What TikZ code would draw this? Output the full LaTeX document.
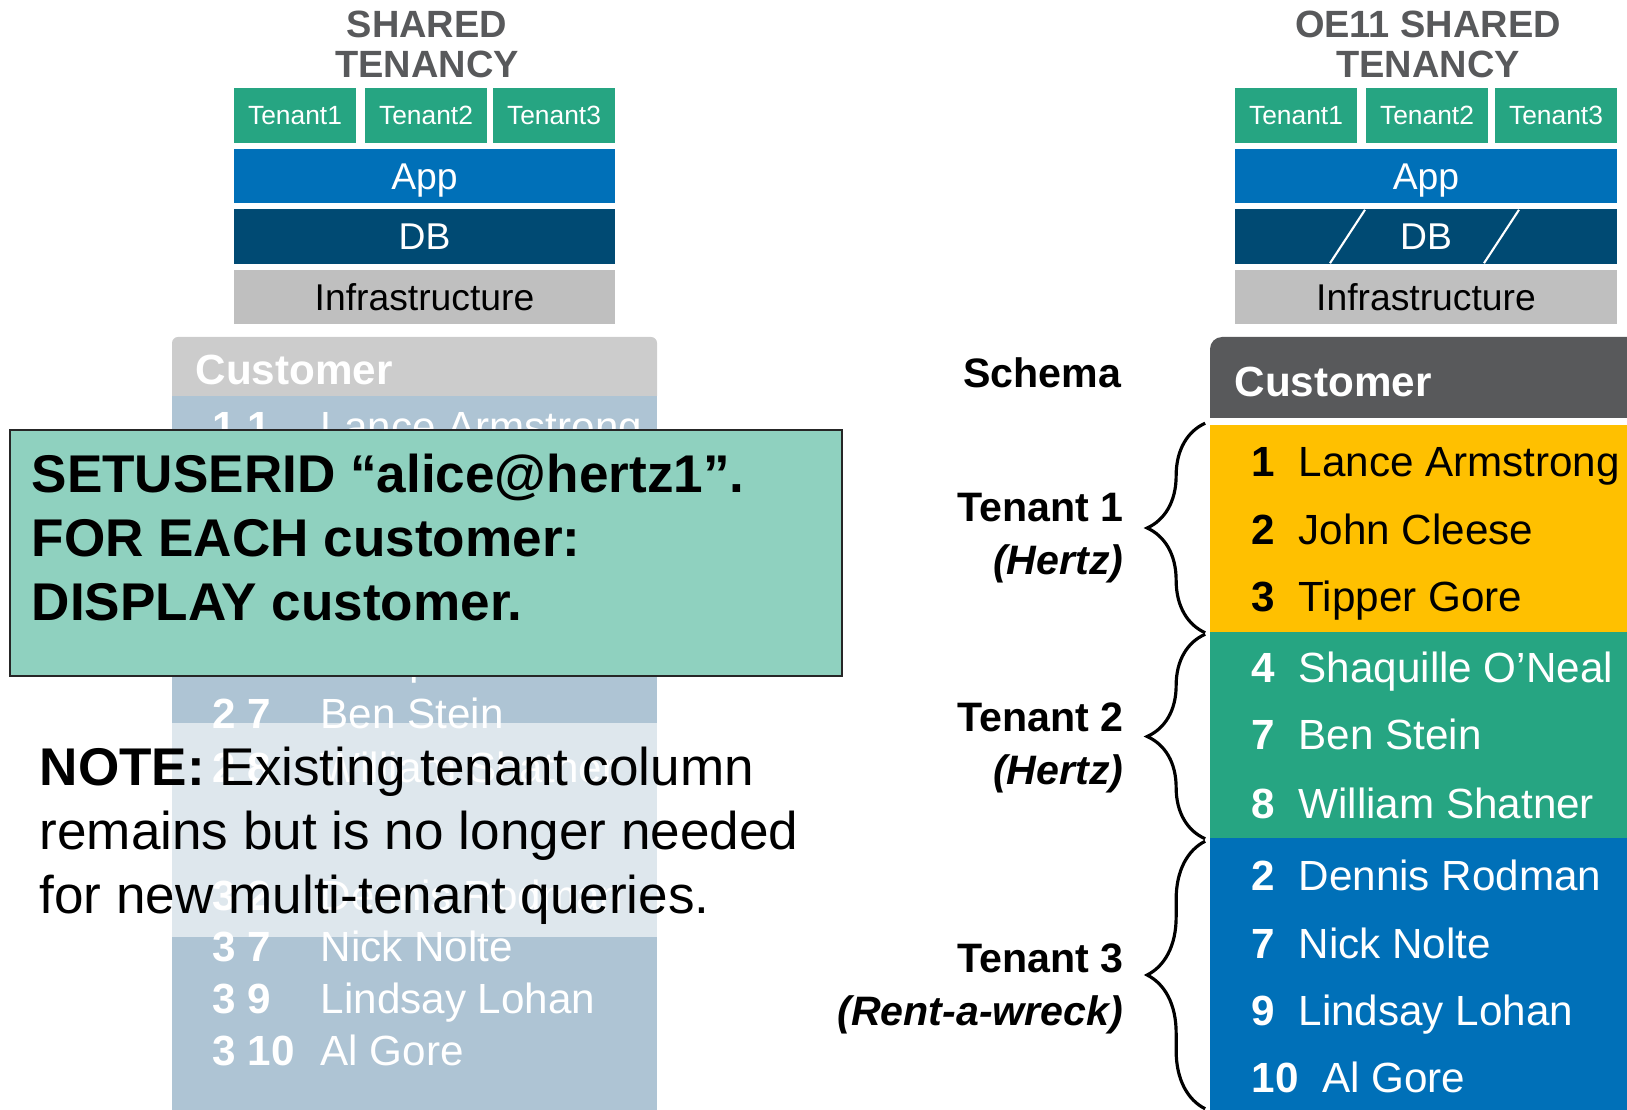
\documentclass[tikz,border=0pt]{standalone}
\usepackage{fontspec}
\setmainfont{Liberation Sans}
\usepackage{tikz}
\usetikzlibrary{decorations.pathreplacing, calc}

\definecolor{tgreen}{RGB}{38,165,130}
\definecolor{appblue}{RGB}{0,112,184}
\definecolor{dbnavy}{RGB}{0,74,115}
\definecolor{infragrey}{RGB}{191,191,191}
\definecolor{titlegrey}{RGB}{88,89,91}
\definecolor{hdrlight}{RGB}{204,204,204}
\definecolor{tblblue}{RGB}{174,196,212}
\definecolor{mint}{RGB}{143,209,191}
\definecolor{hyellow}{RGB}{255,192,0}

\begin{document}
\begin{tikzpicture}[x=0.01cm, y=-0.01cm]
    \tikzstyle{tenantbox} = [rectangle, fill=tgreen, text=white, minimum width=1.22cm, minimum height=0.55cm, inner sep=0pt, text height=0.19cm, text depth=0pt, font=\fontsize{7.5}{9}\selectfont]
    \tikzstyle{layer} = [rectangle, text=white, minimum width=3.81cm, minimum height=0.54cm, inner sep=0pt, text height=0.27cm, text depth=0pt, font=\fontsize{10.6}{12}\selectfont]
    \tikzstyle{stacktitle} = [align=center, inner sep=0pt, text=titlegrey, font=\fontsize{10.8}{11.4}\selectfont\bfseries]
    \tikzstyle{band} = [rectangle, minimum width=4.3cm, inner sep=0pt]
    \tikzstyle{rowtext} = [anchor=base west, inner sep=0pt, font=\fontsize{12}{14}\selectfont]
    \tikzstyle{tenantlabel} = [anchor=east, align=right, inner sep=0pt, font=\fontsize{11.7}{15}\selectfont\bfseries]
    \tikzstyle{tbrace} = [decorate, decoration={brace, amplitude=0.58cm}, line width=0.9pt]
    \tikzstyle{bigtext} = [anchor=west, align=left, inner sep=0pt, font=\fontsize{15.1}{18.2}\selectfont]

    \useasboundingbox (0,0) rectangle (1627,1110);

    % Left stack
    \node[stacktitle] (ltitle) at (427,44) {SHARED\\TENANCY};
    \node[tenantbox] (lten1) at (295,115.5) {Tenant1};
    \node[tenantbox] (lten2) at (426,115.5) {Tenant2};
    \node[tenantbox] (lten3) at (554,115.5) {Tenant3};
    \node[layer, fill=appblue] (lapp) at (424.5,176) {App};
    \node[layer, fill=dbnavy] (ldb) at (424.5,236.5) {DB};
    \node[layer, fill=infragrey, text=black] (linfra) at (424.5,297) {Infrastructure};

    % Right stack
    \node[stacktitle] (rtitle) at (1428,44) {OE11 SHARED\\TENANCY};
    \node[tenantbox] (rten1) at (1296,115.5) {Tenant1};
    \node[tenantbox] (rten2) at (1427,115.5) {Tenant2};
    \node[tenantbox] (rten3) at (1556,115.5) {Tenant3};
    \node[layer, fill=appblue] (rapp) at (1426,176) {App};
    \node[layer, fill=dbnavy] (rdb) at (1426,236.5) {DB};
    \node[layer, fill=infragrey, text=black] (rinfra) at (1426,297) {Infrastructure};
    \draw[white, line width=0.6pt] ([shift={(-96,-1)}]rdb.south) -- ([shift={(-61,1)}]rdb.north);
    \draw[white, line width=0.6pt] ([shift={(58,-1)}]rdb.south) -- ([shift={(93,1)}]rdb.north);

    % Left table (old tenant column)
    \path[fill=hdrlight, rounded corners=0.06cm] (172,396) -- (172,337) -- (657,337) -- (657,396);
    \node[rectangle, fill=tblblue, minimum width=4.85cm, minimum height=7.3cm, inner sep=0pt] (lbody) at (414.5,761) {};
    \node[rowtext, text=white, font=\fontsize{12}{14}\selectfont\bfseries] (lcust) at (195,385) {Customer};
    \foreach \n/\nm/\y [count=\i] in {1 1/Lance Armstrong/442, 2 4/Shaquille O’Neal/675, 2 7/Ben Stein/729, 2 8/William Shatner/783, 3 2/Dennis Rodman/910, 3 7/Nick Nolte/961, 3 9/Lindsay Lohan/1013, 3 10/Al Gore/1065} {
        \node[rowtext, text=white] (lnum\i) at (212,\y) {\textbf{\n}};
        \node[rowtext, text=white] (lname\i) at (320,\y) {\nm};
    }
    \fill[white, fill opacity=0.6] (172,723) rectangle (657,937);

    % Command box
    \node[draw=black!85, line width=0.6pt, fill=mint, minimum width=8.32cm, minimum height=2.46cm, inner sep=0pt] (cmdbox) at (426,553) {};
    \node[bigtext, font=\fontsize{15.1}{18.2}\selectfont\bfseries] (cmdtext) at (31,538) {SETUSERID “alice@hertz1”.\\FOR EACH customer:\\DISPLAY customer.};

    % Note
    \node[bigtext] (note) at (39,836) {\textbf{NOTE:} Existing tenant column\\remains but is no longer needed\\for new multi-tenant queries.};

    % Right table (schema per tenant)
    \path[fill=titlegrey, rounded corners=0.12cm] (1210,418) -- (1210,337) -- (1640,337) -- (1640,418);
    \node[rowtext, text=white, font=\fontsize{12}{14}\selectfont\bfseries] (rcust) at (1234,397) {Customer};
    \node[band, fill=hyellow, minimum height=2.07cm] (yel) at (1425,528.5) {};
    \node[band, fill=tgreen, minimum height=2.06cm] (grn) at (1425,735) {};
    \node[band, fill=appblue, minimum height=2.82cm] (blu) at (1425,979) {};
    \foreach \n/\nm/\y/\c [count=\i] in {1/Lance Armstrong/477/black, 2/John Cleese/545/black, 3/Tipper Gore/612/black, 4/Shaquille O’Neal/683/white, 7/Ben Stein/750/white, 8/William Shatner/818/white, 2/Dennis Rodman/890/white, 7/Nick Nolte/958/white, 9/Lindsay Lohan/1025/white, 10/Al Gore/1092/white} {
        \node[rowtext, text=\c] (rrow\i) at (1251,\y) {\textbf{\n}~~\nm};
    }

    % Tenant labels and braces
    \node[tenantlabel] (schema) at (1122,373) {Schema};
    \node[tenantlabel] (lab1) at (1124,538) {Tenant 1\\\textit{(Hertz)}};
    \node[tenantlabel] (lab2) at (1124,748) {Tenant 2\\\textit{(Hertz)}};
    \node[tenantlabel] (lab3) at (1124,989) {Tenant 3\\\textit{(Rent-a-wreck)}};
    \draw[tbrace] ([shift={(-4,0)}]yel.south west) -- ([shift={(-4,-1)}]yel.north west);
    \draw[tbrace] ([shift={(-4,0)}]grn.south west) -- ([shift={(-4,3)}]grn.north west);
    \draw[tbrace] ([shift={(-4,-12)}]blu.south west) -- ([shift={(-4,4)}]blu.north west);
\end{tikzpicture}
\end{document}
